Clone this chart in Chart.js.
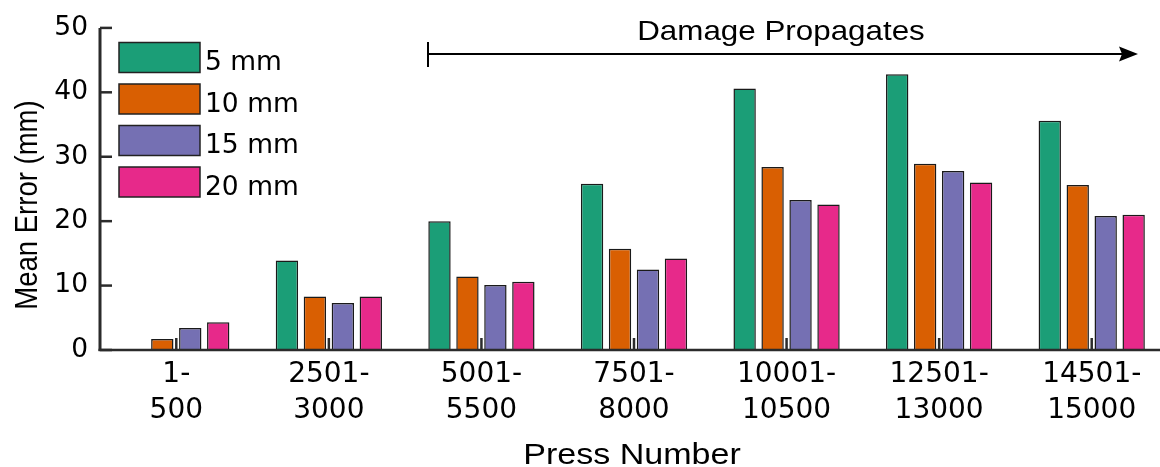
<!DOCTYPE html>
<html>
<head>
<meta charset="utf-8">
<script src="https://cdn.jsdelivr.net/npm/chart.js@4.4.1/dist/chart.umd.min.js"></script>
<style>
  html, body { margin: 0; padding: 0; background: #fff; overflow: hidden; }
  #wrap { width: 1172px; height: 467px; }
</style>
</head>
<body>
<div id="wrap"><canvas id="myCanvas" width="1172" height="467"></canvas></div>
<script>
// press number ranges (two-line tick labels)
const pressRanges = [
  ["1-", "500"],
  ["2501-", "3000"],
  ["5001-", "5500"],
  ["7501-", "8000"],
  ["10001-", "10500"],
  ["12501-", "13000"],
  ["14501-", "15000"]
];
const seriesNames = ["5 mm", "10 mm", "15 mm", "20 mm"];
const seriesColors = ["#1b9e77", "#d95f02", "#7570b3", "#e7298a"];

// mean error (mm)
const err5mm = [0, 13.9, 20.0, 25.8, 40.6, 42.8, 35.6];
const err10mm = [1.7, 8.3, 11.4, 15.7, 28.4, 28.9, 25.6];
const err15mm = [3.4, 7.3, 10.1, 12.5, 23.3, 27.8, 20.8];
const err20mm = [4.3, 8.3, 10.6, 14.2, 22.6, 26.0, 21.0];

const yTicks = [0, 10, 20, 30, 40, 50];

const AXIS = "#2b2b2b";

function line(ctx, x1, y1, x2, y2) {
  ctx.beginPath();
  ctx.moveTo(x1, y1);
  ctx.lineTo(x2, y2);
  ctx.stroke();
}

// axes, inward ticks, legend, annotation and titles
const decorPlugin = {
  id: "decor",
  afterDatasetsDraw(chart) {
    const ctx = chart.ctx;
    const a = chart.chartArea;
    const x = chart.scales.x;
    const y = chart.scales.y;
    ctx.save();

    // axis lines
    ctx.strokeStyle = AXIS;
    ctx.lineWidth = 3;
    line(ctx, a.left, y.getPixelForValue(50), a.left, a.bottom + 1);
    ctx.lineWidth = 2.5;
    line(ctx, a.left - 1.5, a.bottom, a.right + 10, a.bottom);

    // inward ticks
    ctx.lineWidth = 2.5;
    yTicks.forEach(v => {
      const py = y.getPixelForValue(v);
      line(ctx, a.left, py, a.left + 12, py);
    });
    pressRanges.forEach((_, i) => {
      const px = x.getPixelForValue(i);
      line(ctx, px, a.bottom, px, a.bottom - 12);
    });

    // legend
    chart.data.datasets.forEach((ds, i) => {
      const top = 42.5 + i * 41.5;
      ctx.fillStyle = ds.backgroundColor;
      ctx.fillRect(119, top, 81, 30);
      ctx.lineWidth = 1.5;
      ctx.strokeStyle = "#222";
      ctx.strokeRect(119, top, 81, 30);
      ctx.fillStyle = "#000";
      ctx.font = '26.5px "DejaVu Sans"';
      ctx.textAlign = "left";
      ctx.textBaseline = "alphabetic";
      ctx.fillText(ds.label, 205, top + 27.5);
    });

    // damage propagates arrow
    ctx.strokeStyle = "#000";
    ctx.fillStyle = "#000";
    ctx.lineWidth = 2;
    line(ctx, 428, 54, 1124, 54);
    line(ctx, 428, 42, 428, 67);
    ctx.beginPath();
    ctx.moveTo(1138, 54);
    ctx.lineTo(1119, 46.5);
    ctx.lineTo(1122, 54);
    ctx.lineTo(1119, 61.5);
    ctx.closePath();
    ctx.fill();

    ctx.save();
    ctx.translate(781, 39.5);
    ctx.scale(1.14, 1);
    ctx.font = '27.5px "Liberation Sans"';
    ctx.textAlign = "center";
    ctx.textBaseline = "alphabetic";
    ctx.fillText("Damage Propagates", 0, 0);
    ctx.restore();

    // axis titles
    ctx.save();
    ctx.translate(632, 464);
    ctx.scale(1.135, 1);
    ctx.font = '30px "Liberation Sans"';
    ctx.textAlign = "center";
    ctx.fillText("Press Number", 0, 0);
    ctx.restore();

    ctx.save();
    ctx.translate(37, 205);
    ctx.scale(1.14, 1);
    ctx.rotate(-Math.PI / 2);
    ctx.font = '27.5px "Liberation Sans"';
    ctx.textAlign = "center";
    ctx.fillText("Mean Error (mm)", 0, 0);
    ctx.restore();

    ctx.restore();
  }
};

const datasets = [err5mm, err10mm, err15mm, err20mm].map((vals, i) => ({
  label: seriesNames[i],
  data: vals,
  backgroundColor: seriesColors[i],
  borderColor: "#1a1a1a",
  borderWidth: 1.5,
  categoryPercentage: 0.733,
  barPercentage: 0.8
}));

new Chart(document.getElementById("myCanvas"), {
  type: "bar",
  data: { labels: pressRanges, datasets: datasets },
  options: {
    responsive: false,
    animation: false,
    devicePixelRatio: 1,
    layout: { padding: { left: 0, top: 24, right: 4, bottom: 0 } },
    plugins: { legend: { display: false }, tooltip: { enabled: false } },
    scales: {
      x: {
        offset: true,
        grid: { display: false, drawTicks: false },
        border: { display: false },
        ticks: {
          autoSkip: false,
          maxRotation: 0,
          padding: 6,
          color: "#000",
          font: { family: "DejaVu Sans", size: 28, lineHeight: 1.31 }
        },
        afterFit(scale) { scale.height = 117; }
      },
      y: {
        min: 0,
        max: 50,
        grid: { display: false, drawTicks: false },
        border: { display: false },
        ticks: {
          stepSize: 10,
          padding: 12,
          color: "#000",
          font: { family: "DejaVu Sans", size: 26.5 }
        },
        afterFit(scale) { scale.width = 100; }
      }
    }
  },
  plugins: [decorPlugin]
});
</script>
</body>
</html>
